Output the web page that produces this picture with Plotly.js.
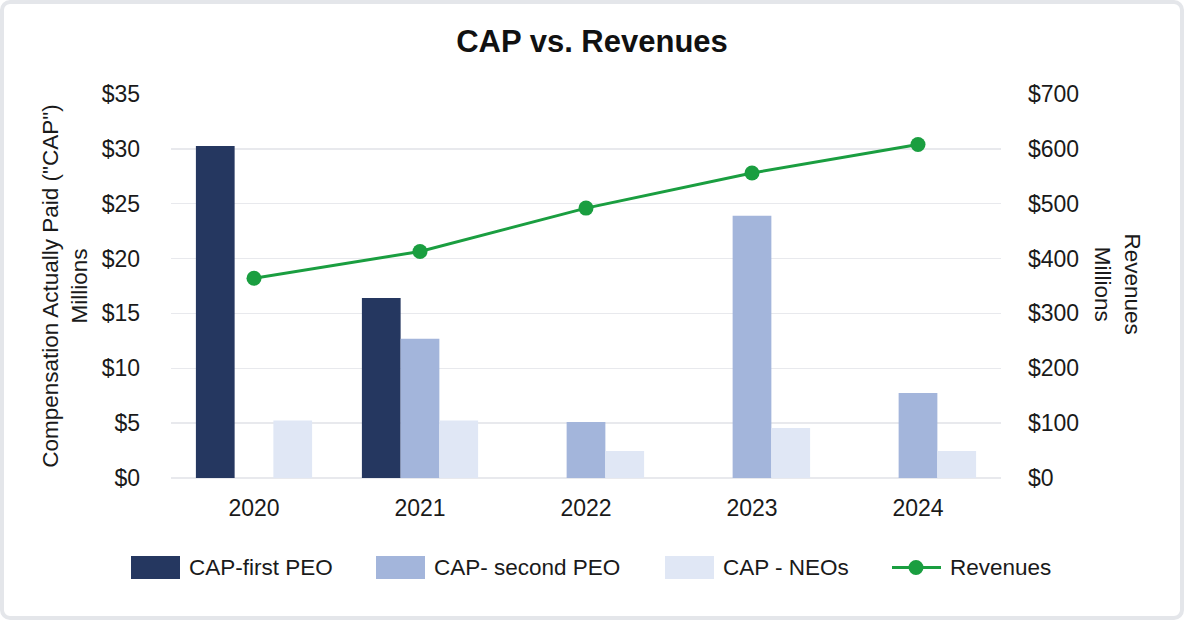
<!DOCTYPE html>
<html>
<head>
<meta charset="utf-8">
<script src="https://cdn.plot.ly/plotly-3.0.1.min.js"></script>
<style>
  html, body { margin: 0; padding: 0; background: #ffffff; }
  #frame { position: absolute; left: 0; top: 0; width: 1184px; height: 620px; box-sizing: border-box;
           border: 4px solid #e4e6ea; border-radius: 10px; background: #ffffff; }
  #chart { position: absolute; left: 0; top: 0; width: 1184px; height: 620px; }
</style>
</head>
<body>
<div id="frame"></div>
<div id="chart"></div>
<script>
// ---- data ----
const years = ["2020", "2021", "2022", "2023", "2024"];
const capFirstPEO = [30.25, 16.4, null, null, null];
const capSecondPEO = [null, 12.7, 5.1, 23.9, 7.75];
const capNEOs = [5.25, 5.25, 2.45, 4.55, 2.45];
const revenues = [364, 413, 492, 556, 608];
const seriesNames = ["CAP-first PEO", "CAP- second PEO", "CAP - NEOs", "Revenues"];
const leftTicks = [0, 5, 10, 15, 20, 25, 30, 35];
const rightTicks = [0, 100, 200, 300, 400, 500, 600, 700];

// ---- styles ----
const colors = ["#253760", "#a3b5db", "#e0e7f5", "#1a9e40"];
const FONT = "Liberation Sans, Arial, sans-serif";
const W = 1184, H = 620;
const plotL = 171, plotR = 1001, plotT = 94, plotB = 478;
const px = x => (x - plotL) / (plotR - plotL);
const py = y => (plotB - y) / (plotB - plotT);

const traces = [
  { type: "bar", name: seriesNames[0], x: years, y: capFirstPEO, marker: { color: colors[0] }, showlegend: false },
  { type: "bar", name: seriesNames[1], x: years, y: capSecondPEO, marker: { color: colors[1] }, showlegend: false },
  { type: "bar", name: seriesNames[2], x: years, y: capNEOs, marker: { color: colors[2] }, showlegend: false },
  { type: "scatter", mode: "lines+markers", name: seriesNames[3], x: years, y: revenues, yaxis: "y2",
    line: { color: colors[3], width: 3 }, marker: { color: colors[3], size: 15 }, showlegend: false }
];

// custom legend (large swatches as in the reference)
const shapes = [];
const annotations = [];
const legendY0 = 556, legendY1 = 579, legendMid = 567.5;
const swatchX = [131, 376, 665];
const textX = [187, 432, 721, 948];
for (let i = 0; i < 3; i++) {
  shapes.push({ type: "rect", xref: "paper", yref: "paper",
    x0: px(swatchX[i]), x1: px(swatchX[i] + 49), y0: py(legendY1), y1: py(legendY0),
    fillcolor: colors[i], line: { width: 0 } });
}
shapes.push({ type: "line", xref: "paper", yref: "paper",
  x0: px(892), x1: px(941), y0: py(legendMid), y1: py(legendMid),
  line: { color: colors[3], width: 3 } });
shapes.push({ type: "circle", xref: "paper", yref: "paper",
  x0: px(908.5), x1: px(923.5), y0: py(legendMid + 7.5), y1: py(legendMid - 7.5),
  fillcolor: colors[3], line: { width: 0 } });
for (let i = 0; i < 4; i++) {
  annotations.push({ xref: "paper", yref: "paper", x: px(textX[i]), y: py(legendMid),
    xanchor: "left", yanchor: "middle", showarrow: false, text: seriesNames[i],
    font: { family: FONT, size: 22.5, color: "#1a1a1a" } });
}
// right axis title, rotated to read top-to-bottom
annotations.push({ xref: "paper", yref: "paper", x: px(1117.5), y: py(284),
  xanchor: "center", yanchor: "middle", showarrow: false, textangle: 90,
  text: "Revenues<br>Millions", font: { family: FONT, size: 22.5, color: "#1a1a1a" } });

const layout = {
  width: W, height: H,
  paper_bgcolor: "rgba(0,0,0,0)", plot_bgcolor: "rgba(0,0,0,0)",
  margin: { l: plotL, r: W - plotR, t: plotT, b: H - plotB, pad: 0 },
  font: { family: FONT, size: 23, color: "#1a1a1a" },
  title: { text: "<b>CAP vs. Revenues</b>", x: 0.5, xanchor: "center", y: 1 - 41 / H, yanchor: "middle",
           font: { family: FONT, size: 31, color: "#111111" } },
  barmode: "group", bargap: 0.3, bargroupgap: 0,
  showlegend: false,
  xaxis: { type: "category", showgrid: false, zeroline: false, showline: false, ticks: "",
           tickfont: { family: FONT, size: 23, color: "#1a1a1a" }, ticklabelstandoff: 14, fixedrange: true },
  yaxis: { range: [0, 35], tickvals: leftTicks, ticktext: leftTicks.map(v => "$" + v),
           showgrid: true, gridcolor: "#e8e9ed", gridwidth: 1.5, zeroline: true, zerolinecolor: "#e8e9ed", zerolinewidth: 1.5,
           showline: false, ticks: "", ticklabelstandoff: 30,
           tickfont: { family: FONT, size: 23, color: "#1a1a1a" },
           title: { text: "Compensation Actually Paid (\"CAP\")<br>Millions", standoff: 7,
                    font: { family: FONT, size: 22.5, color: "#1a1a1a" } },
           automargin: false, fixedrange: true },
  yaxis2: { range: [0, 700], tickvals: rightTicks, ticktext: rightTicks.map(v => "$" + v),
            overlaying: "y", side: "right", showgrid: false, zeroline: false, showline: false, ticks: "",
            ticklabelstandoff: 26, tickfont: { family: FONT, size: 23, color: "#1a1a1a" },
            automargin: false, fixedrange: true },
  shapes: shapes,
  annotations: annotations
};

Plotly.newPlot("chart", traces, layout, { displayModeBar: false, staticPlot: true });
</script>
</body>
</html>
